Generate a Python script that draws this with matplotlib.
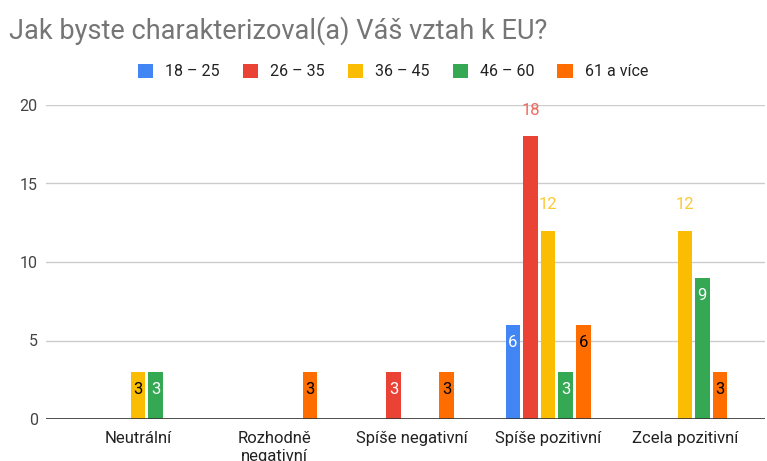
import matplotlib
matplotlib.use("Agg")
import matplotlib.pyplot as plt
import numpy as np

plt.rcParams['font.family'] = ['Roboto', 'DejaVu Sans']

categories = ["Neutrální", "Rozhodně\nnegativní", "Spíše negativní", "Spíše pozitivní", "Zcela pozitivní"]
series_names = ["18 – 25", "26 – 35", "36 – 45", "46 – 60", "61 a více"]
colors = ["#4285F4", "#EA4335", "#FBBC04", "#34A853", "#FF6D01"]
v_18_25 = [0, 0, 0, 6, 0]
v_26_35 = [0, 0, 3, 18, 0]
v_36_45 = [3, 0, 0, 12, 12]
v_46_60 = [3, 0, 0, 3, 9]
v_61 = [0, 3, 3, 6, 3]
values = [v_18_25, v_26_35, v_36_45, v_46_60, v_61]
inside_text = ["white", "white", "black", "white", "black"]
outside_text = ["#4285F4", "#EE6A5F", "#FCC934", "#34A853", "#FF6D01"]
yticks = [0, 5, 10, 15, 20]

W, H = 767, 461
fig = plt.figure(figsize=(W / 100, H / 100), dpi=100)
left, right, bottom, top = 46, 765, 419, 105
ax = fig.add_axes([left / W, 1 - bottom / H, (right - left) / W, (bottom - top) / H])

x = np.arange(len(categories))
bw = 0.106
step = 0.129
for i, (name, vals, c) in enumerate(zip(series_names, values, colors)):
    xs = x + (i - 2) * step
    ax.bar(xs, vals, width=bw, color=c, label=name, zorder=3)
    for xi, v in zip(xs, vals):
        if v == 0:
            continue
        if v >= 12:
            ax.annotate(str(v), (xi, v), xytext=(0, 19), textcoords="offset points",
                        ha="center", va="center", fontsize=12, color=outside_text[i])
        else:
            ax.annotate(str(v), (xi, v), xytext=(0, -12.5), textcoords="offset points",
                        ha="center", va="center", fontsize=12, color=inside_text[i])

ax.set_xlim(-0.673, 4.587)
ax.set_ylim(0, 20)
ax.set_yticks(yticks)
ax.set_yticklabels([str(t) for t in yticks])
ax.set_xticks(x)
ax.set_xticklabels(categories, linespacing=1.3)
ax.grid(axis="y", color="#cccccc", linewidth=1, zorder=0)
ax.axhline(0, color="#333333", linewidth=1.2, zorder=4)
for s in ax.spines.values():
    s.set_visible(False)
ax.tick_params(axis="both", length=0, colors="#222222")
ax.tick_params(axis="x", pad=8.5, labelsize=12)
ax.tick_params(axis="y", pad=6, labelsize=11.5)
for lab in ax.get_yticklabels():
    lab.set_color("#444444")

fig.text(9 / W, 1 - 31 / H, "Jak byste charakterizoval(a) Váš vztah k EU?", fontsize=19.5,
         color="#757575", ha="left", va="center")

leg = fig.legend(loc="center", bbox_to_anchor=(393 / W, 1 - 71.5 / H), ncol=5, frameon=False,
                 fontsize=11.5, handlelength=0.95, handleheight=0.95, handletextpad=0.75,
                 columnspacing=1.45)
for t in leg.get_texts():
    t.set_color("#222222")

fig.savefig("out.png", dpi=100)
